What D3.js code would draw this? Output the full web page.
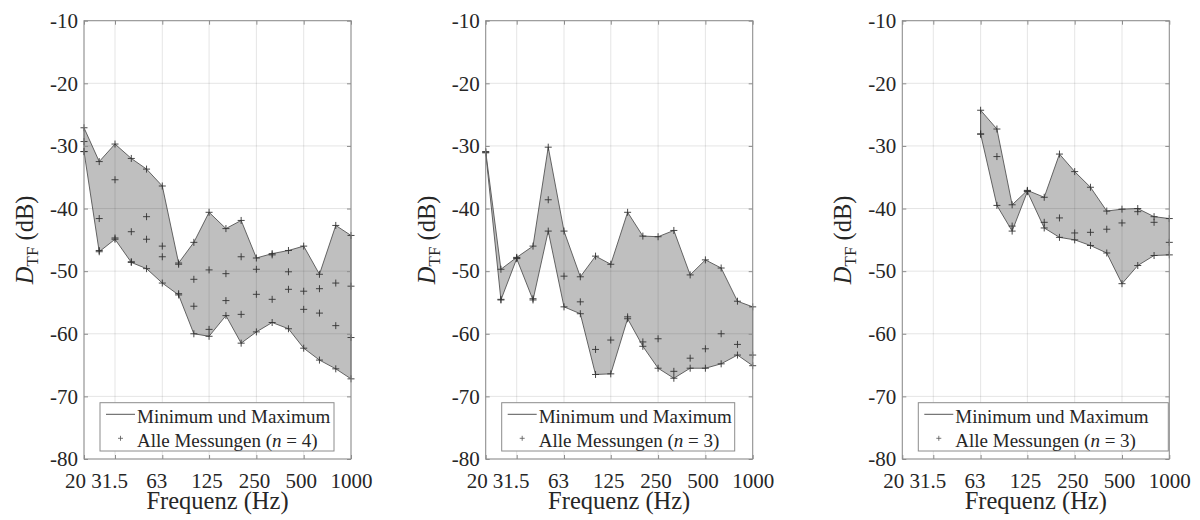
<!DOCTYPE html>
<html>
<head>
<meta charset="utf-8">
<script src="https://cdn.jsdelivr.net/npm/d3@7"></script>
<style>
    body { margin: 0; background: #fff; }
    svg { display: block; }
    svg text { font-family: 'Liberation Serif', 'Times New Roman', serif; }
</style>
</head>
<body>
<svg id="chart" width="1200" height="520"></svg>
<script>
// Terzband-Frequenzen
const freqs = [20, 25, 31.5, 40, 50, 63, 80, 100, 125, 160, 200, 250, 315, 400, 500, 630, 800, 1000]
const freqs3 = [63, 80, 100, 125, 160, 200, 250, 315, 400, 500, 630, 800, 1000]

const xTicks = [20, 31.5, 63, 125, 250, 500, 1000]
const xTickLabels = ['20', '31.5', '63', '125', '250', '500', '1000']
const yTicks = [-80, -70, -60, -50, -40, -30, -20, -10]
const yTickLabels = ['-80', '-70', '-60', '-50', '-40', '-30', '-20', '-10']

// Panel 1 (n = 4)
const p1m1 = [-27.1, -32.5, -29.7, -32.0, -33.7, -36.4, -48.7, -45.4, -40.6, -43.2, -41.9, -47.9, -47.2, -46.7, -46.0, -50.5, -42.7, -44.3]
const p1m2 = [-29.3, -41.6, -35.4, -43.7, -41.3, -46.0, -48.9, -51.3, -49.8, -50.4, -47.7, -49.7, -47.4, -50.1, -53.2, -52.8, -51.9, -52.4]
const p1m3 = [-30.9, -46.7, -44.9, -48.5, -44.9, -47.7, -53.6, -55.6, -59.3, -54.7, -56.9, -53.7, -54.5, -52.9, -56.1, -56.7, -58.7, -60.6]
const p1m4 = [-30.9, -46.9, -44.7, -48.6, -49.6, -51.9, -53.8, -60.0, -60.4, -57.1, -61.5, -59.7, -58.2, -59.2, -62.3, -64.2, -65.6, -67.2]

// Panel 2 (n = 3)
const p2m1 = [-30.9, -49.7, -47.8, -46.0, -30.2, -43.6, -50.9, -47.6, -48.9, -40.6, -44.4, -44.5, -43.5, -50.6, -48.2, -49.5, -54.8, -55.7]
const p2m2 = [-31.0, -54.5, -47.9, -54.4, -38.6, -50.8, -54.9, -62.5, -61.0, -57.3, -61.3, -60.8, -66.0, -63.9, -62.4, -60.0, -61.7, -63.4]
const p2m3 = [-31.1, -54.6, -48.0, -54.6, -43.6, -55.7, -56.8, -66.5, -66.4, -57.6, -62.0, -65.5, -67.1, -65.5, -65.5, -64.8, -63.4, -65.1]

// Panel 3 (n = 3), ab 63 Hz
const p3m1 = [-24.3, -27.3, -39.4, -37.1, -38.2, -31.3, -34.1, -36.6, -40.4, -40.1, -40.0, -41.3, -41.6]
const p3m2 = [-28.1, -31.7, -42.8, -37.2, -42.2, -41.5, -43.9, -43.8, -43.3, -42.3, -40.5, -42.2, -45.4]
const p3m3 = [-28.1, -39.5, -43.6, -37.3, -43.1, -44.6, -45.0, -45.9, -47.1, -52.0, -49.1, -47.5, -47.4]

const panels = [
    { freqs: freqs, series: [p1m1, p1m2, p1m3, p1m4], n: 4, left: 84, legendW: 234 },
    { freqs: freqs, series: [p2m1, p2m2, p2m3], n: 3, left: 485.7, legendW: 233 },
    { freqs: freqs3, series: [p3m1, p3m2, p3m3], n: 3, left: 902.3, legendW: 250 },
]

const plotTop = 20.7
const gWidth = 267
const gHeight = 438.3
const boxColor = '#8c8c8c'
const serif = "'Liberation Serif', 'Times New Roman', serif"
// Beschriftungen wie im Original leicht nach links versetzt
const xLabelShift = [-9, -6, -6, -2.5, -2.5, -3, 0]

const svg = d3.select('#chart')

panels.forEach((p) => {
    const x = d3.scaleLog().domain([20, 1000]).range([0, gWidth])
    const y = d3.scaleLinear().domain([-80, -10]).range([gHeight, 0])

    const graph = svg.append('g').attr('transform', `translate(${p.left}, ${plotTop})`)

    const rows = p.freqs.map((f, i) => {
        const vals = p.series.map((s) => s[i])
        return { f: f, lo: d3.min(vals), hi: d3.max(vals) }
    })

    // Fläche zwischen Min und Max
    const area = d3
        .area()
        .x((d) => x(d.f))
        .y0((d) => y(d.lo))
        .y1((d) => y(d.hi))
    graph.append('path').datum(rows).attr('d', area).attr('fill', '#bfbfbf').attr('stroke', '#555').attr('stroke-width', 0.9)

    // Gitter
    graph
        .selectAll('.vgrid')
        .data(xTicks)
        .enter()
        .append('line')
        .attr('x1', (d) => x(d))
        .attr('x2', (d) => x(d))
        .attr('y1', 0)
        .attr('y2', gHeight)
        .attr('stroke', 'rgba(38,38,38,0.12)')
    graph
        .selectAll('.hgrid')
        .data(yTicks)
        .enter()
        .append('line')
        .attr('x1', 0)
        .attr('x2', gWidth)
        .attr('y1', (d) => y(d))
        .attr('y2', (d) => y(d))
        .attr('stroke', 'rgba(38,38,38,0.12)')

    // Messpunkte
    const pts = []
    p.series.forEach((s) => s.forEach((v, i) => pts.push({ f: p.freqs[i], v: v })))
    graph
        .selectAll('.pt')
        .data(pts)
        .enter()
        .append('path')
        .attr('d', 'M-3.5,0H3.5M0,-3.5V3.5')
        .attr('transform', (d) => `translate(${x(d.f)}, ${y(d.v)})`)
        .attr('stroke', '#333')
        .attr('stroke-width', 0.9)
        .attr('fill', 'none')

    // Achsen
    const xAxis = d3
        .axisBottom(x)
        .tickValues(xTicks)
        .tickFormat((d, i) => xTickLabels[i])
        .tickSizeInner(-4)
        .tickSizeOuter(0)
        .tickPadding(14)
    const yAxis = d3
        .axisLeft(y)
        .tickValues(yTicks)
        .tickFormat((d, i) => yTickLabels[i])
        .tickSizeInner(-4)
        .tickSizeOuter(0)
        .tickPadding(6)

    const gX = graph.append('g').attr('transform', `translate(0, ${gHeight})`).call(xAxis)
    const gY = graph.append('g').call(yAxis)
    const gX2 = graph.append('g').call(d3.axisTop(x).tickValues(xTicks).tickFormat('').tickSizeInner(-4).tickSizeOuter(0))
    const gY2 = graph.append('g').attr('transform', `translate(${gWidth}, 0)`).call(d3.axisRight(y).tickValues(yTicks).tickFormat('').tickSizeInner(-4).tickSizeOuter(0))

    ;[gX, gY, gX2, gY2].forEach((g) => {
        g.attr('font-family', serif).attr('font-size', 21)
        g.select('.domain').remove()
        g.selectAll('line').attr('stroke', boxColor)
        g.selectAll('text').style('font-family', serif).style('font-size', '21px').attr('fill', '#262626')
    })
    gX.selectAll('text').attr('dx', (d, i) => xLabelShift[i])

    graph.append('rect').attr('width', gWidth).attr('height', gHeight).attr('fill', 'none').attr('stroke', boxColor)

    // Achsentitel
    graph
        .append('text')
        .attr('x', gWidth / 2)
        .attr('y', 509 - plotTop)
        .attr('text-anchor', 'middle')
        .style('font-family', serif)
        .style('font-size', '24.5px')
        .attr('fill', '#262626')
        .text('Frequenz (Hz)')

    const yl = graph
        .append('text')
        .attr('transform', `translate(${33 - 84}, ${gHeight / 2}) rotate(-90)`)
        .attr('text-anchor', 'middle')
        .style('font-family', serif)
        .style('font-size', '24.5px')
        .attr('fill', '#262626')
    yl.append('tspan').style('font-style', 'italic').text('D')
    yl.append('tspan').attr('dy', 5).style('font-size', '17px').text('TF')
    yl.append('tspan').attr('dy', -5).text(' (dB)')

    // Legende
    const lg = graph.append('g').attr('transform', `translate(16, 382)`).style('font-family', serif)
    lg.append('rect').attr('width', p.legendW).attr('height', 48.3).attr('fill', '#fff').attr('stroke', boxColor)
    lg.append('line').attr('x1', 6).attr('x2', 35).attr('y1', 11.6).attr('y2', 11.6).attr('stroke', '#555')
    lg.append('text').attr('x', 37).attr('y', 20).style('font-size', '19px').attr('fill', '#262626').text('Minimum und Maximum')
    lg.append('path').attr('d', 'M-2.5,0H2.5M0,-2.5V2.5').attr('transform', 'translate(20.5, 35.6)').attr('stroke', '#555').attr('stroke-width', 0.8)
    const t2 = lg.append('text').attr('x', 37).attr('y', 44).style('font-size', '19px').attr('fill', '#262626')
    t2.append('tspan').text('Alle Messungen (')
    t2.append('tspan').style('font-style', 'italic').text('n')
    t2.append('tspan').text(` = ${p.n})`)
})
</script>
</body>
</html>
